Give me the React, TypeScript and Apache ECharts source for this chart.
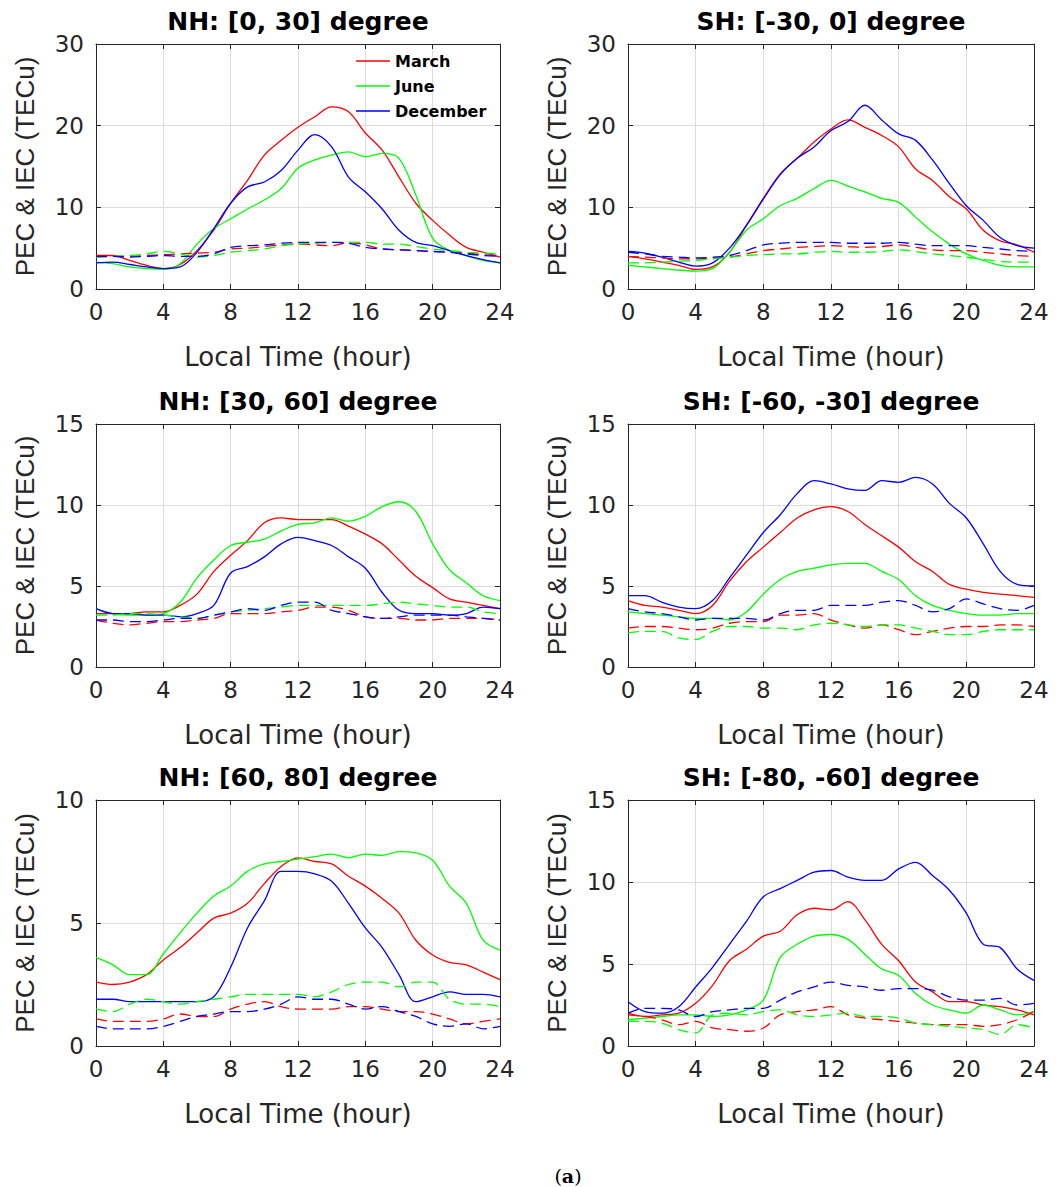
import React, { useEffect, useRef } from "react";
import * as echarts from "echarts";

// ---------- data ----------
const HOURS = [0, 1, 2, 3, 4, 5, 6, 7, 8, 9, 10, 11, 12, 13, 14, 15, 16, 17, 18, 19, 20, 21, 22, 23, 24];
const MONTHS = ["March", "June", "December"];
const COLORS = ["#ff0000", "#00ff00", "#0000ff"];
const PANEL_TITLES = [
  "NH: [0, 30] degree",
  "SH: [-30, 0] degree",
  "NH: [30, 60] degree",
  "SH: [-60, -30] degree",
  "NH: [60, 80] degree",
  "SH: [-80, -60] degree",
];
const Y_MAX = [30, 30, 15, 15, 10, 15];
const Y_STEP = [10, 10, 5, 5, 5, 5];
const X_TICKS = { min: 0, max: 24, step: 4 };

// Panel 1: NH [0, 30]
const p1MarchSolid = [4.1, 4.1, 3.5, 2.9, 2.5, 3.0, 4.7, 7.2, 10.5, 13.3, 16.4, 18.2, 19.8, 21.1, 22.3, 21.7, 19.1, 17.0, 13.7, 10.5, 8.4, 6.6, 5.1, 4.5, 3.9];
const p1JuneSolid = [3.3, 3.1, 2.7, 2.5, 2.4, 3.1, 5.5, 7.4, 8.6, 9.8, 10.9, 12.3, 14.8, 15.8, 16.4, 16.8, 16.2, 16.6, 16.0, 11.5, 6.2, 4.7, 4.1, 3.5, 3.2];
const p1DecSolid = [3.2, 3.3, 3.0, 2.7, 2.5, 2.7, 4.5, 7.4, 10.5, 12.5, 13.1, 14.5, 17.0, 18.9, 17.4, 13.7, 11.9, 9.8, 7.2, 5.7, 5.3, 4.7, 4.1, 3.6, 3.2];
const p1MarchDash = [3.9, 4.0, 4.0, 4.1, 4.2, 4.3, 4.4, 4.5, 4.9, 5.0, 5.2, 5.4, 5.5, 5.4, 5.3, 5.7, 5.4, 4.9, 4.8, 4.7, 4.6, 4.5, 4.4, 4.2, 4.1];
const p1JuneDash = [3.9, 4.0, 4.1, 4.3, 4.6, 4.3, 3.9, 4.1, 4.5, 4.7, 4.9, 5.3, 5.5, 5.6, 5.7, 5.7, 5.7, 5.5, 5.5, 5.2, 4.9, 4.7, 4.5, 4.4, 4.3];
const p1DecDash = [4.0, 4.0, 3.9, 4.0, 4.1, 4.0, 4.0, 4.3, 5.1, 5.3, 5.4, 5.6, 5.7, 5.7, 5.7, 5.6, 5.1, 4.9, 4.8, 4.7, 4.6, 4.5, 4.3, 4.1, 4.0];

// Panel 2: SH [-30, 0]
const p2MarchSolid = [4.0, 3.7, 3.3, 2.9, 2.4, 2.7, 4.5, 7.8, 11.1, 14.1, 16.0, 18.0, 19.6, 20.7, 19.8, 18.8, 17.4, 14.7, 13.3, 11.3, 9.8, 7.2, 5.9, 5.4, 4.5];
const p2JuneSolid = [2.9, 2.7, 2.5, 2.3, 2.2, 2.5, 4.5, 7.2, 8.6, 10.2, 11.1, 12.3, 13.3, 12.6, 11.9, 11.1, 10.6, 8.8, 7.0, 5.5, 4.3, 3.5, 2.9, 2.7, 2.7];
const p2DecSolid = [4.6, 4.4, 3.9, 3.3, 2.8, 3.2, 5.0, 7.8, 11.0, 14.0, 16.0, 17.4, 19.4, 20.5, 22.5, 20.7, 19.0, 18.2, 15.8, 12.9, 10.2, 8.4, 6.3, 5.3, 5.0];
const p2MarchDash = [4.0, 3.9, 3.8, 3.7, 3.7, 3.8, 3.9, 4.3, 4.7, 4.9, 5.1, 5.2, 5.3, 5.2, 5.1, 5.2, 5.4, 5.1, 4.8, 4.7, 4.7, 4.5, 4.3, 4.1, 4.0];
const p2JuneDash = [3.2, 3.2, 3.3, 3.4, 3.5, 3.7, 3.9, 4.1, 4.2, 4.3, 4.3, 4.5, 4.6, 4.5, 4.5, 4.6, 4.8, 4.6, 4.3, 4.1, 3.9, 3.6, 3.4, 3.3, 3.3];
const p2DecDash = [4.5, 4.3, 4.0, 3.9, 3.8, 3.9, 4.1, 4.7, 5.4, 5.6, 5.7, 5.7, 5.7, 5.6, 5.6, 5.6, 5.7, 5.5, 5.3, 5.3, 5.3, 5.1, 4.9, 4.7, 4.6];

// Panel 3: NH [30, 60]
const p3MarchSolid = [3.3, 3.3, 3.3, 3.4, 3.4, 3.8, 4.5, 5.9, 6.9, 7.8, 8.9, 9.2, 9.1, 9.1, 9.1, 8.7, 8.2, 7.6, 6.6, 5.6, 4.9, 4.2, 4.0, 3.8, 3.6];
const p3JuneSolid = [3.6, 3.3, 3.2, 3.2, 3.3, 4.0, 5.5, 6.6, 7.5, 7.7, 7.9, 8.4, 8.8, 8.9, 9.2, 9.0, 9.3, 9.9, 10.2, 9.6, 7.6, 6.0, 5.2, 4.4, 4.1];
const p3DecSolid = [3.6, 3.3, 3.3, 3.2, 3.2, 3.1, 3.3, 3.8, 5.8, 6.2, 6.8, 7.6, 8.0, 7.8, 7.5, 6.8, 6.1, 4.6, 3.5, 3.3, 3.3, 3.2, 3.3, 3.7, 3.6];
const p3MarchDash = [2.9, 2.7, 2.6, 2.7, 2.8, 2.8, 2.9, 3.0, 3.3, 3.3, 3.3, 3.4, 3.5, 3.7, 3.7, 3.5, 3.1, 3.0, 3.0, 2.9, 2.9, 3.0, 3.0, 3.0, 2.9];
const p3JuneDash = [3.2, 3.2, 3.3, 3.3, 3.2, 3.1, 3.0, 3.2, 3.4, 3.5, 3.6, 3.7, 3.8, 3.8, 3.8, 3.8, 3.8, 3.9, 4.0, 3.9, 3.8, 3.7, 3.7, 3.4, 3.3];
const p3DecDash = [2.9, 2.9, 2.8, 2.8, 2.9, 3.0, 3.0, 3.2, 3.4, 3.6, 3.5, 3.8, 4.0, 4.0, 3.5, 3.3, 3.1, 3.0, 3.1, 3.2, 3.2, 3.2, 3.1, 3.0, 2.9];

// Panel 4: SH [-60, -30]
const p4MarchSolid = [4.1, 3.8, 3.7, 3.5, 3.3, 3.8, 5.3, 6.5, 7.4, 8.3, 9.2, 9.7, 9.9, 9.6, 8.8, 8.1, 7.4, 6.5, 5.9, 5.1, 4.8, 4.6, 4.5, 4.4, 4.3];
const p4JuneSolid = [3.4, 3.3, 3.2, 3.1, 3.0, 3.0, 2.9, 3.4, 4.5, 5.4, 5.9, 6.1, 6.3, 6.4, 6.4, 5.9, 5.4, 4.4, 3.8, 3.5, 3.3, 3.2, 3.2, 3.3, 3.3];
const p4DecSolid = [4.4, 4.4, 4.0, 3.7, 3.6, 4.1, 5.5, 6.9, 8.3, 9.4, 10.7, 11.5, 11.3, 11.0, 10.9, 11.5, 11.4, 11.7, 11.3, 10.1, 9.2, 7.6, 5.9, 5.1, 5.0];
const p4MarchDash = [2.4, 2.5, 2.5, 2.4, 2.3, 2.4, 2.7, 2.8, 2.8, 3.2, 3.2, 3.3, 2.9, 2.6, 2.4, 2.6, 2.3, 2.0, 2.2, 2.4, 2.5, 2.5, 2.6, 2.6, 2.5];
const p4JuneDash = [2.1, 2.2, 2.2, 1.8, 1.7, 2.2, 2.5, 2.5, 2.4, 2.4, 2.3, 2.6, 2.7, 2.6, 2.5, 2.6, 2.6, 2.4, 2.2, 2.0, 2.0, 2.2, 2.3, 2.3, 2.3];
const p4DecDash = [3.6, 3.4, 3.3, 3.1, 2.9, 3.0, 3.0, 3.0, 2.9, 3.3, 3.5, 3.5, 3.8, 3.8, 3.8, 4.0, 4.1, 3.8, 3.4, 3.6, 4.2, 3.9, 3.6, 3.5, 3.8];

// Panel 5: NH [60, 80]
const p5MarchSolid = [2.6, 2.5, 2.6, 2.9, 3.5, 4.0, 4.6, 5.2, 5.4, 5.8, 6.6, 7.3, 7.65, 7.5, 7.4, 6.9, 6.5, 6.0, 5.4, 4.3, 3.7, 3.4, 3.3, 3.0, 2.7];
const p5JuneSolid = [3.6, 3.3, 2.9, 2.9, 3.75, 4.6, 5.4, 6.1, 6.5, 7.1, 7.4, 7.5, 7.6, 7.7, 7.8, 7.65, 7.8, 7.75, 7.9, 7.85, 7.55, 6.5, 5.8, 4.3, 3.9];
const p5DecSolid = [1.9, 1.9, 1.8, 1.8, 1.8, 1.8, 1.8, 2.0, 3.2, 4.8, 5.9, 7.1, 7.1, 7.0, 6.7, 5.8, 4.8, 4.0, 2.9, 1.8, 2.0, 2.2, 2.1, 2.1, 2.0];
const p5MarchDash = [1.1, 1.0, 1.0, 1.0, 1.1, 1.3, 1.2, 1.2, 1.5, 1.7, 1.8, 1.6, 1.5, 1.5, 1.5, 1.6, 1.6, 1.5, 1.4, 1.4, 1.3, 1.1, 0.9, 1.0, 1.1];
const p5JuneDash = [1.5, 1.4, 1.7, 1.9, 1.8, 1.7, 1.8, 1.9, 2.0, 2.1, 2.1, 2.1, 2.1, 2.0, 2.2, 2.5, 2.6, 2.6, 2.4, 2.6, 2.6, 1.9, 1.7, 1.7, 1.6];
const p5DecDash = [0.8, 0.7, 0.7, 0.7, 0.8, 1.0, 1.2, 1.3, 1.4, 1.4, 1.5, 1.7, 2.0, 1.9, 1.9, 1.7, 1.5, 1.6, 1.4, 1.2, 0.9, 0.8, 0.9, 0.7, 0.8];

// Panel 6: SH [-80, -60]
const p6MarchSolid = [2.0, 1.8, 1.9, 2.0, 2.6, 3.7, 5.2, 5.9, 6.7, 7.0, 8.0, 8.4, 8.3, 8.8, 7.7, 6.2, 5.2, 3.9, 3.3, 2.7, 2.7, 2.5, 2.4, 2.2, 1.9];
const p6JuneSolid = [1.6, 1.7, 1.8, 1.9, 1.9, 1.8, 1.9, 2.2, 2.8, 5.4, 6.2, 6.7, 6.8, 6.5, 5.6, 4.7, 4.3, 3.2, 2.5, 2.2, 2.0, 2.5, 2.2, 1.9, 2.1];
const p6DecSolid = [2.7, 2.1, 2.0, 2.4, 3.6, 4.8, 6.2, 7.6, 9.1, 9.6, 10.1, 10.6, 10.7, 10.3, 10.1, 10.1, 10.8, 11.2, 10.4, 9.5, 8.1, 6.2, 6.0, 4.7, 4.0];
const p6MarchDash = [1.9, 1.8, 1.6, 1.3, 1.5, 1.1, 1.0, 0.9, 1.1, 1.9, 2.1, 2.2, 2.4, 1.9, 1.7, 1.6, 1.5, 1.4, 1.3, 1.3, 1.3, 1.2, 1.3, 1.6, 2.1];
const p6JuneDash = [1.5, 1.5, 1.4, 1.0, 0.8, 1.9, 2.0, 1.9, 2.1, 2.2, 1.9, 1.8, 1.9, 2.0, 1.8, 1.8, 1.7, 1.4, 1.3, 1.2, 1.1, 1.0, 0.7, 1.3, 1.1];
const p6DecDash = [2.0, 2.3, 2.3, 2.2, 1.8, 2.1, 2.2, 2.3, 2.3, 2.8, 3.3, 3.6, 3.9, 3.7, 3.6, 3.4, 3.5, 3.5, 3.4, 3.0, 2.8, 2.8, 2.9, 2.5, 2.6];

const SOLID = [
  [p1MarchSolid, p1JuneSolid, p1DecSolid],
  [p2MarchSolid, p2JuneSolid, p2DecSolid],
  [p3MarchSolid, p3JuneSolid, p3DecSolid],
  [p4MarchSolid, p4JuneSolid, p4DecSolid],
  [p5MarchSolid, p5JuneSolid, p5DecSolid],
  [p6MarchSolid, p6JuneSolid, p6DecSolid],
];
const DASHED = [
  [p1MarchDash, p1JuneDash, p1DecDash],
  [p2MarchDash, p2JuneDash, p2DecDash],
  [p3MarchDash, p3JuneDash, p3DecDash],
  [p4MarchDash, p4JuneDash, p4DecDash],
  [p5MarchDash, p5JuneDash, p5DecDash],
  [p6MarchDash, p6JuneDash, p6DecDash],
];

// ---------- layout ----------
const GRIDS = [
  { left: 96, top: 44, width: 404, height: 245 },
  { left: 628, top: 44, width: 406, height: 245 },
  { left: 96, top: 424, width: 404, height: 243 },
  { left: 628, top: 424, width: 406, height: 243 },
  { left: 96, top: 800, width: 404, height: 246 },
  { left: 628, top: 800, width: 406, height: 246 },
];

const AXIS_COLOR = "#262626";
const SANS = "'DejaVu Sans', sans-serif";

function buildOption() {
  const xAxis: any[] = [];
  const yAxis: any[] = [];
  const series: any[] = [];
  const graphic: any[] = [];

  GRIDS.forEach((g, gi) => {
    const tickCommon = {
      axisLine: { show: true, onZero: false, lineStyle: { color: AXIS_COLOR, width: 1 } },
      axisTick: { show: true, inside: true, length: 5, lineStyle: { color: AXIS_COLOR, width: 1 } },
    };
    xAxis.push({
      gridIndex: gi,
      type: "value",
      position: "bottom",
      min: X_TICKS.min,
      max: X_TICKS.max,
      interval: X_TICKS.step,
      ...tickCommon,
      axisLabel: { fontSize: 23, color: AXIS_COLOR, margin: 11, fontFamily: SANS },
      splitLine: { show: true, lineStyle: { color: "#dcdcdc", width: 1 } },
      name: "Local Time (hour)",
      nameLocation: "middle",
      nameGap: 55,
      nameTextStyle: { fontSize: 26, color: AXIS_COLOR, fontFamily: SANS },
    });
    xAxis.push({
      gridIndex: gi,
      type: "value",
      position: "top",
      min: X_TICKS.min,
      max: X_TICKS.max,
      interval: X_TICKS.step,
      ...tickCommon,
      axisLabel: { show: false },
      splitLine: { show: false },
    });
    yAxis.push({
      gridIndex: gi,
      type: "value",
      position: "left",
      min: 0,
      max: Y_MAX[gi],
      interval: Y_STEP[gi],
      ...tickCommon,
      axisLabel: { fontSize: 23, color: AXIS_COLOR, margin: 12, fontFamily: SANS },
      splitLine: { show: true, lineStyle: { color: "#dcdcdc", width: 1 } },
      name: "PEC & IEC (TECu)",
      nameLocation: "middle",
      nameGap: 58,
      nameRotate: 90,
      nameTextStyle: { fontSize: 26, color: AXIS_COLOR, fontFamily: "'Liberation Sans', Arial, sans-serif" },
    });
    yAxis.push({
      gridIndex: gi,
      type: "value",
      position: "right",
      min: 0,
      max: Y_MAX[gi],
      interval: Y_STEP[gi],
      ...tickCommon,
      axisLabel: { show: false },
      splitLine: { show: false },
    });

    MONTHS.forEach((m, mi) => {
      series.push({
        type: "line",
        name: m,
        xAxisIndex: gi * 2,
        yAxisIndex: gi * 2,
        data: HOURS.map((h, i) => [h, SOLID[gi][mi][i]]),
        smooth: 0.35,
        symbol: "none",
        lineStyle: { color: COLORS[mi], width: 1.3 },
        itemStyle: { color: COLORS[mi] },
        z: 3,
      });
    });
    MONTHS.forEach((m, mi) => {
      series.push({
        type: "line",
        name: m + " PEC",
        xAxisIndex: gi * 2,
        yAxisIndex: gi * 2,
        data: HOURS.map((h, i) => [h, DASHED[gi][mi][i]]),
        smooth: 0.35,
        symbol: "none",
        lineStyle: { color: COLORS[mi], width: 1.3, type: [11, 6] },
        itemStyle: { color: COLORS[mi] },
        z: 3,
      });
    });

    graphic.push({
      type: "text",
      x: g.left + g.width / 2,
      y: g.top - 23,
      style: {
        text: PANEL_TITLES[gi],
        font: `bold 25px ${SANS}`,
        fill: "#000",
        align: "center",
        verticalAlign: "middle",
      },
    });
  });

  graphic.push({
    type: "text",
    x: 568,
    y: 1176,
    style: {
      text: "({b|a})",
      font: "19px 'DejaVu Serif', serif",
      fill: "#000",
      align: "center",
      verticalAlign: "middle",
      rich: { b: { fontWeight: "bold", fontSize: 19, fontFamily: "'DejaVu Serif', serif" } },
    },
  });

  return {
    animation: false,
    backgroundColor: "#ffffff",
    grid: GRIDS.map((g) => ({ ...g, containLabel: false })),
    xAxis,
    yAxis,
    series,
    legend: {
      data: MONTHS,
      orient: "vertical",
      left: 356,
      top: 53,
      icon: "rect",
      itemWidth: 34,
      itemHeight: 1.5,
      itemGap: 9,
      padding: 0,
      selectedMode: false,
      textStyle: { fontFamily: SANS, fontWeight: "bold", fontSize: 16, lineHeight: 16, color: "#000" },
    },
    graphic,
  };
}

export default function App() {
  const ref = useRef<HTMLDivElement>(null);
  useEffect(() => {
    document.body.style.margin = "0";
    if (!ref.current) return;
    const chart = echarts.init(ref.current, null, { renderer: "svg" });
    chart.setOption(buildOption() as any);
    return () => chart.dispose();
  }, []);
  return <div ref={ref} style={{ width: 1056, height: 1187 }} />;
}
